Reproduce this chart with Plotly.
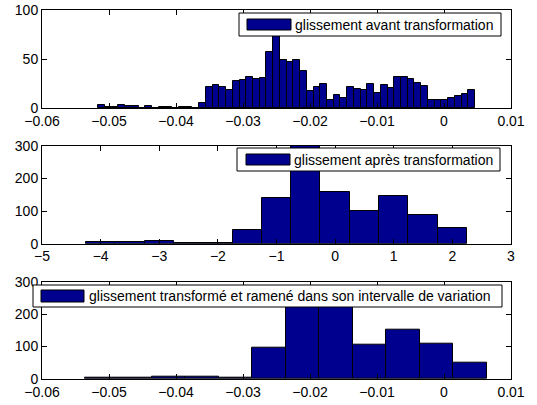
import plotly.graph_objects as go

# ---------------- data ----------------
# top: slip before transformation (56 bins)
before_start = -0.0511          # centre of first bin
before_width = 0.001004
before_counts = [3, 1, 1, 3, 2.5, 2.5, 0, 2.5, 0, 1.5, 1, 0, 1, 1.5, 0,
                 4.8, 21, 23, 21, 18, 28, 29, 32, 30, 31, 57, 75, 49, 47, 49,
                 38, 17, 21, 25, 8, 13, 10, 21, 19, 18, 24, 15, 23, 20, 32,
                 32, 30, 26, 22, 8, 8, 8, 10, 12, 14, 18]

# middle: slip after transformation (13 bins)
after_start = -4.0
after_width = 0.5
after_counts = [4, 4, 7, 3, 3, 42, 140, 305, 159, 100, 147, 88, 47]

# bottom: transformed then mapped back (12 bins)
back_start = -0.0511
back_width = 0.005
back_counts = [3, 5, 7, 7, 5, 96, 260, 235, 107, 152, 108, 49]

x_ticks_slip = [-0.06, -0.05, -0.04, -0.03, -0.02, -0.01, 0, 0.01]
x_text_slip = ["\u22120.06", "\u22120.05", "\u22120.04", "\u22120.03",
               "\u22120.02", "\u22120.01", "0", "0.01"]
x_ticks_tr = [-5, -4, -3, -2, -1, 0, 1, 2, 3]
x_text_tr = ["\u22125", "\u22124", "\u22123", "\u22122", "\u22121", "0", "1", "2", "3"]

names = ["glissement avant transformation",
         "glissement après transformation",
         "glissement transformé et ramené dans son intervalle de variation"]

# ---------------- figure ----------------
BAR = "rgb(0,0,143)"
FONT = "Liberation Sans, Arial, Helvetica, sans-serif"
W, H = 537, 405
ML, MR, MT, MB = 42, 26, 10, 26
PW, PH = W - ML - MR, H - MT - MB

def px(xp):
    return (xp - ML) / PW

def py(yp):
    return (H - MB - yp) / PH

fig = go.Figure()
fig.add_trace(go.Bar(x0=before_start, dx=before_width, y=before_counts,
                     width=before_width, name=names[0], showlegend=False,
                     marker=dict(color=BAR, line=dict(color="black", width=1)),
                     xaxis="x", yaxis="y"))
fig.add_trace(go.Bar(x0=after_start, dx=after_width, y=after_counts,
                     width=after_width, name=names[1], showlegend=False,
                     marker=dict(color=BAR, line=dict(color="black", width=1)),
                     xaxis="x2", yaxis="y2"))
fig.add_trace(go.Bar(x0=back_start, dx=back_width, y=back_counts,
                     width=back_width, name=names[2], showlegend=False,
                     marker=dict(color=BAR, line=dict(color="black", width=1)),
                     xaxis="x3", yaxis="y3"))

# MATLAB-style legend boxes (box, colour patch, label)
legend_boxes = [
    # box x0, x1, y0, y1, patch x0, x1, y0, y1, text x
    (239, 501, 13, 36, 247, 291, 19, 30, 293),
    (237, 500, 148, 171, 246, 290, 154, 165, 292),
    (33, 502, 285, 307, 41, 84, 290, 302, 87),
]
shapes, annots = [], []
for name, (bx0, bx1, by0, by1, qx0, qx1, qy0, qy1, tx) in zip(names, legend_boxes):
    shapes.append(dict(type="rect", xref="paper", yref="paper",
                       x0=px(bx0), x1=px(bx1), y0=py(by1), y1=py(by0),
                       fillcolor="white", line=dict(color="black", width=1),
                       layer="above"))
    shapes.append(dict(type="rect", xref="paper", yref="paper",
                       x0=px(qx0), x1=px(qx1), y0=py(qy1), y1=py(qy0),
                       fillcolor=BAR, line=dict(color="black", width=1),
                       layer="above"))
    annots.append(dict(text=name, xref="paper", yref="paper",
                       x=px(tx), y=py((by0 + by1) / 2), xanchor="left",
                       yanchor="middle", showarrow=False,
                       font=dict(size=14, family=FONT, color="black")))

ax = dict(showline=True, linecolor="black", linewidth=1, mirror="ticks",
          ticks="inside", ticklen=5, tickcolor="black", showgrid=False,
          zeroline=False, automargin=False,
          tickfont=dict(size=14, color="black", family=FONT))

fig.update_layout(
    template="none",
    width=W, height=H,
    margin=dict(l=ML, r=MR, t=MT, b=MB, autoexpand=False),
    paper_bgcolor="white", plot_bgcolor="white",
    bargap=0, showlegend=False,
    font=dict(family=FONT, size=14, color="black"),
    xaxis=dict(ax, domain=[0, 1], anchor="y", range=[-0.06, 0.01],
               tickvals=x_ticks_slip, ticktext=x_text_slip),
    yaxis=dict(ax, domain=[0.7344, 1.0], anchor="x", range=[0, 100],
               tickvals=[0, 50, 100]),
    xaxis2=dict(ax, domain=[0, 1], anchor="y2", range=[-5, 3],
                tickvals=x_ticks_tr, ticktext=x_text_tr),
    yaxis2=dict(ax, domain=[0.3667, 0.6314], anchor="x2", range=[0, 300],
                tickvals=[0, 100, 200, 300]),
    xaxis3=dict(ax, domain=[0, 1], anchor="y3", range=[-0.06, 0.01],
                tickvals=x_ticks_slip, ticktext=x_text_slip),
    yaxis3=dict(ax, domain=[0.0, 0.2637], anchor="x3", range=[0, 300],
                tickvals=[0, 100, 200, 300]),
    shapes=shapes,
    annotations=annots,
)

fig.write_html("out.html", config={"displayModeBar": False},
               post_script="document.body.style.margin='0';")
